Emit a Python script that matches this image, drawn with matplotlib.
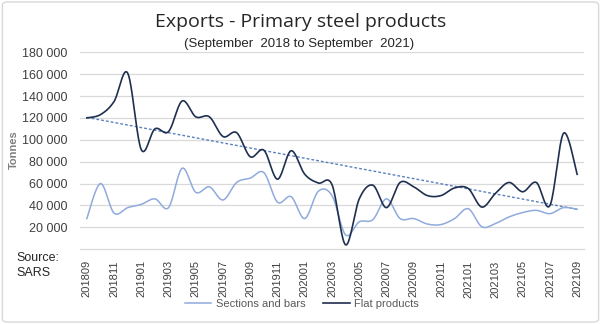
import numpy as np
import matplotlib
matplotlib.use("Agg")
import matplotlib.pyplot as plt
from matplotlib.patches import FancyBboxPatch

# Monthly exports in tonnes, Sep 2018 .. Sep 2021
months = [f"{y}{m:02d}" for y in range(2018, 2022) for m in range(1, 13)][8:45]
sections_and_bars = [
    28000, 60000, 33000, 38000, 41000, 46000, 38000, 74000, 52000, 57000,
    45000, 61000, 65000, 70000, 43000, 48000, 28000, 53000, 49000, 13000,
    25000, 27000, 46000, 28000, 28000, 23000, 22500, 28000, 37000, 20500,
    23500, 29500, 33500, 35500, 32500, 38000, 36500,
]
flat_products = [
    120000, 123000, 135000, 161000, 91000, 110000, 107500, 135500, 121000, 121000,
    103000, 106500, 84500, 90500, 64000, 90000, 68500, 60500, 59000, 4000,
    46000, 58500, 38000, 61000, 57000, 49000, 49000, 56000, 55500, 38500,
    51000, 61000, 52500, 61000, 40000, 106000, 68500,
]
y_ticks = list(range(20000, 180001, 20000))

FLAT_COLOR = "#1f2f4f"
SECT_COLOR = "#8faadc"
TREND_COLOR = "#5a7fbf"
TEXT_COLOR = "#595959"


def smooth(y, n=20):
    """Bezier smoothing similar to a spreadsheet 'smoothed line'."""
    y = np.asarray(y, dtype=float)
    x = np.arange(len(y), dtype=float)
    pts = np.column_stack([x, y])
    padded = np.vstack([pts[0], pts, pts[-1]])
    t = np.linspace(0, 1, n, endpoint=False)[:, None]
    out = []
    for i in range(len(pts) - 1):
        p0, p1, p2, p3 = padded[i], padded[i + 1], padded[i + 2], padded[i + 3]
        c1 = p1 + (p2 - p0) / 6
        c2 = p2 - (p3 - p1) / 6
        seg = ((1 - t) ** 3) * p1 + 3 * ((1 - t) ** 2) * t * c1 \
            + 3 * (1 - t) * t ** 2 * c2 + t ** 3 * p2
        out.append(seg)
    out.append(pts[-1][None, :])
    curve = np.vstack(out)
    return curve[:, 0], curve[:, 1]


fig = plt.figure(figsize=(6.01, 3.24), dpi=100)
plt.rcParams["font.family"] = ["Liberation Sans", "DejaVu Sans"]

# chart border
fig.patches.append(FancyBboxPatch((0.004, 0.006), 0.992, 0.988,
                                  boxstyle="round,pad=0,rounding_size=0.01",
                                  transform=fig.transFigure, fill=False,
                                  edgecolor="#d9d9d9", linewidth=1.0))

ax = fig.add_axes([0.1331, 0.2309, 0.8386, 0.6077])

xs, ys = smooth(sections_and_bars)
ax.plot(xs, ys, color=SECT_COLOR, lw=1.1, label="Sections and bars", zorder=3)
xf, yf = smooth(flat_products)
ax.plot(xf, yf, color=FLAT_COLOR, lw=1.2, label="Flat products", zorder=4)

# linear trend on flat products
idx = np.arange(len(flat_products))
slope, intercept = np.polyfit(idx, flat_products, 1)
ax.plot(idx, slope * idx + intercept, color=TREND_COLOR, lw=1.0,
        linestyle=(0, (2, 1.5)), zorder=2)

ax.set_xlim(-0.5, len(months) - 0.5)
ax.set_ylim(0, 180000)
ax.set_yticks(y_ticks)
ax.set_yticklabels([f"{v:,}".replace(",", " ") for v in y_ticks],
                   fontsize=9, color="#404040")
ax.set_xticks(idx[::2])
ax.set_xticklabels(months[::2], rotation=90, fontsize=8, color="#404040")
ax.tick_params(axis="both", length=0)
ax.tick_params(axis="y", pad=9)
ax.tick_params(axis="x", pad=8)
ax.grid(axis="y", color="#d9d9d9", lw=0.9)
ax.set_axisbelow(True)
for side in ["left", "right", "top"]:
    ax.spines[side].set_visible(False)
ax.spines["bottom"].set_color("#d9d9d9")
ax.spines["bottom"].set_linewidth(0.9)

fig.text(0.5, 0.932, "Exports - Primary steel products", ha="center",
         va="center", fontsize=14, color="#262626", family="Open Sans")
fig.text(0.497, 0.864, "(September  2018 to September  2021)", ha="center",
         va="center", fontsize=9.5, color="#262626")
fig.text(0.023, 0.537, "Tonnes", rotation=90, ha="center", va="center",
         fontsize=8, fontweight="bold", color="#7f7f7f")
fig.text(0.027, 0.222, "Source:\nSARS", ha="left", va="top", fontsize=9,
         color="#262626", linespacing=1.3)

fig.legend(loc="center", bbox_to_anchor=(0.502, 0.062), ncol=2, frameon=False,
           fontsize=8, handlelength=2.4, handletextpad=0.4, columnspacing=1.6,
           labelcolor=TEXT_COLOR)

fig.savefig("out.png", dpi=100)
